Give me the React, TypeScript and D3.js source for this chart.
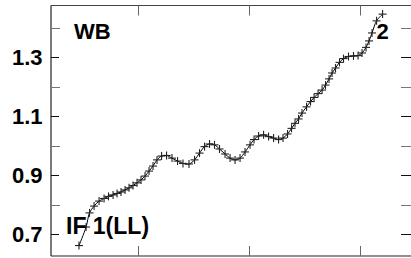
import React from "react";
import * as d3 from "d3";

const xValues = [46.8, 53.2, 56.3, 60.4, 64.9, 69.4, 73.4, 77.5, 81.1, 84.7, 88.3, 91.9, 95.5, 99.1, 102.7, 106.3, 109.9, 113.5, 117.1, 121.2, 125.7, 130.6, 135.6, 140.5, 145.9, 150.9, 155.4, 159.9, 164.4, 168.9, 173.4, 178.4, 182.9, 187.4, 191.9, 196.4, 200.9, 204.5, 208.6, 213.1, 217.6, 222.1, 226.6, 230.6, 234.7, 238.3, 241.4, 244.6, 247.7, 251.8, 255.4, 258.6, 262.2, 265.8, 268.9, 272.1, 274.8, 277.9, 281.5, 285.1, 289.6, 294.1, 298.2, 301.8, 305.4, 308.1, 310.8, 314.9, 320.3];
const yValues = [0.661, 0.724, 0.772, 0.795, 0.812, 0.821, 0.828, 0.833, 0.838, 0.843, 0.85, 0.857, 0.865, 0.874, 0.884, 0.897, 0.914, 0.931, 0.952, 0.965, 0.967, 0.958, 0.948, 0.94, 0.938, 0.952, 0.975, 0.997, 1.006, 1.003, 0.989, 0.972, 0.958, 0.952, 0.958, 0.979, 1.003, 1.021, 1.033, 1.037, 1.031, 1.026, 1.021, 1.026, 1.04, 1.059, 1.076, 1.091, 1.111, 1.132, 1.15, 1.164, 1.177, 1.189, 1.206, 1.227, 1.247, 1.264, 1.283, 1.296, 1.303, 1.305, 1.306, 1.315, 1.334, 1.356, 1.383, 1.424, 1.447];
const yMajorTicks = [0.7, 0.9, 1.1, 1.3];
const yMinorTicks = [0.8, 1.0, 1.2, 1.4];
const yTickLabels = ["0.7", "0.9", "1.1", "1.3"];
const xTicks = [100, 200, 300];
const labels = ["WB", "2", "IF 1(LL)"];

const W = 411;
const H = 258;
const left = 51;
const right = 411;
const top = 5.5;
const bottom = 256;

export default function App() {
  const x = d3.scaleLinear().domain([21.6, 345.9]).range([left, right]);
  const y = d3.scaleLinear().domain([0.6256, 1.4762]).range([bottom, top]);
  const pts = xValues.map((v, i) => [x(v), y(yValues[i])] as [number, number]);
  const line = d3.line().curve(d3.curveCatmullRom)(pts) || "";
  const font = "'Liberation Sans', Arial, sans-serif";
  return (
    <svg width={W} height={H} style={{ position: "absolute", left: 0, top: 0 }} xmlns="http://www.w3.org/2000/svg">
      <rect x={0} y={0} width={W} height={H} fill="white" />
      <line x1={left} y1={top} x2={right} y2={top} stroke="#444" strokeWidth={1.2} />
      <line x1={left} y1={top} x2={left} y2={bottom} stroke="#222" strokeWidth={1.2} />
      <line x1={left} y1={bottom} x2={right} y2={bottom} stroke="#222" strokeWidth={1.2} />
      {yMajorTicks.map((t) => (
        <g key={"M" + t}>
          <line x1={left} x2={left + 8} y1={Math.round(y(t)) + 0.5} y2={Math.round(y(t)) + 0.5} stroke="#111" />
          <line x1={right - 10} x2={right} y1={Math.round(y(t)) + 0.5} y2={Math.round(y(t)) + 0.5} stroke="#111" />
        </g>
      ))}
      {yMinorTicks.map((t) => (
        <g key={"m" + t}>
          <line x1={left} x2={left + 9} y1={Math.round(y(t)) + 0.5} y2={Math.round(y(t)) + 0.5} stroke="#777" />
          <line x1={right - 10} x2={right} y1={Math.round(y(t)) + 0.5} y2={Math.round(y(t)) + 0.5} stroke="#777" />
        </g>
      ))}
      {yMajorTicks.map((t, i) => (
        <text key={"l" + t} x={42.5} y={y(t) + 7.8} textAnchor="end" fontFamily={font} fontWeight="bold" fontSize={22} fill="#000">
          {yTickLabels[i]}
        </text>
      ))}
      {xTicks.map((t) => (
        <g key={"x" + t}>
          <line x1={Math.round(x(t)) + 0.5} x2={Math.round(x(t)) + 0.5} y1={top} y2={top + 10} stroke="#666" />
          <line x1={Math.round(x(t)) + 0.5} x2={Math.round(x(t)) + 0.5} y1={bottom - 10} y2={bottom} stroke="#666" />
        </g>
      ))}
      <path d={line} fill="none" stroke="#000" strokeWidth={1} />
      {pts.map(([px, py], i) => (
        <g key={"p" + i} stroke="#222" strokeWidth={1.1}>
          <line x1={px - 4} x2={px + 4} y1={py} y2={py} />
          <line x1={px} x2={px} y1={py - 4} y2={py + 4} />
        </g>
      ))}
      <text x={74} y={39} fontFamily={font} fontWeight="bold" fontSize={22} fill="#000">{labels[0]}</text>
      <text x={376.5} y={39} fontFamily={font} fontWeight="bold" fontSize={22} fill="#000">{labels[1]}</text>
      <text x={66} y={234.3} fontFamily={font} fontWeight="bold" fontSize={23} fill="#000">{labels[2]}</text>
    </svg>
  );
}
